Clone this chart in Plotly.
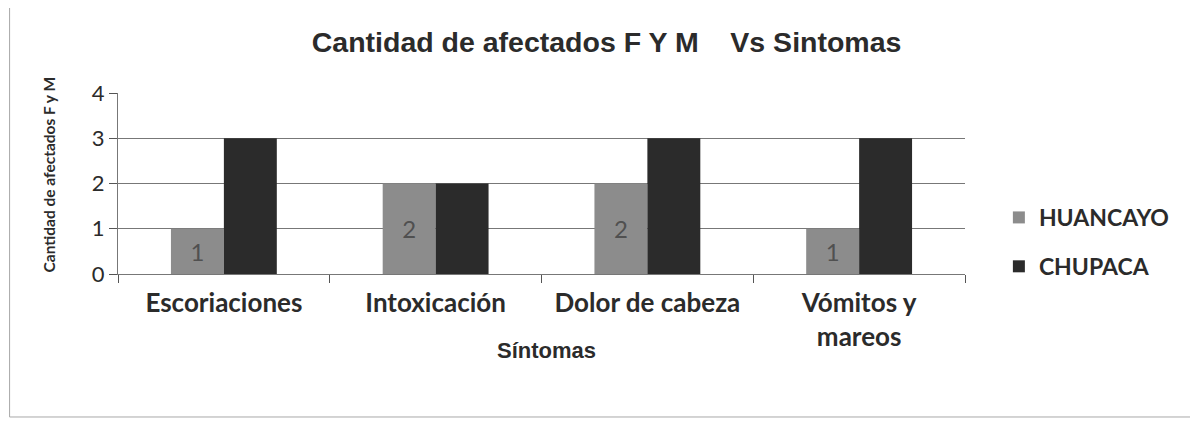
import plotly.graph_objects as go

# ── Colours ───────────────────────────────────────────────────────────────────
C_HUAN = "#8c8c8c"
C_CHUP = "#2b2b2b"
C_GRID = "#777777"
C_TEXT = "#2b2b2b"

# ── Data ─────────────────────────────────────────────────────────────────────
sintomas = ["Escoriaciones", "Intoxicación", "Dolor de cabeza", "Vómitos y<br>mareos"]
huancayo = [1, 2, 2, 1]
chupaca = [3, 2, 3, 3]
y_ticks = [0, 1, 2, 3, 4]

fig = go.Figure()

fig.add_trace(go.Bar(
    name="HUANCAYO", x=sintomas, y=huancayo, legendgroup="h",
    marker=dict(color=C_HUAN, line=dict(width=0)),
    text=[str(v) for v in huancayo],
    textposition="inside", insidetextanchor="middle",
    textfont=dict(color="#505050", size=24, family="Lato, sans-serif"),
))
fig.add_trace(go.Bar(
    name="CHUPACA", x=sintomas, y=chupaca, legendgroup="c",
    marker=dict(color=C_CHUP, line=dict(width=0)),
))

fig.update_layout(
    width=1190, height=415,
    paper_bgcolor="white", plot_bgcolor="white",
    margin=dict(l=110, r=233, t=85, b=149),
    barmode="group", bargap=0.5, bargroupgap=0,
    title=dict(
        text="<b>Cantidad de afectados F Y M    Vs Sintomas</b>",
        font=dict(size=28.5, color=C_TEXT, family="Liberation Sans, Arial, sans-serif"),
        x=0.503, xanchor="center", y=0.918, yanchor="middle",
    ),
    font=dict(family="Lato, sans-serif", color=C_TEXT),
    legend=dict(
        x=1.04, y=0.177, xanchor="left", yanchor="middle",
        font=dict(size=23, color=C_TEXT, family="Lato, sans-serif", weight="bold"),
        tracegroupgap=16, traceorder="grouped",
    ),
    showlegend=True,
)

fig.update_xaxes(
    showgrid=False, showline=True, linecolor=C_GRID, linewidth=1,
    ticks="outside", tickson="boundaries", ticklen=8, tickcolor="#555",
    ticklabelstandoff=6,
    tickfont=dict(size=26, color=C_TEXT, family="Lato, sans-serif", weight="bold"),
)
fig.update_yaxes(
    range=[0, 4], tickvals=y_ticks, showgrid=True, gridcolor=C_GRID, gridwidth=1,
    showline=True, linecolor=C_GRID, linewidth=1, zeroline=False,
    ticks="outside", ticklen=8, tickcolor="#555",
    tickfont=dict(size=22, color=C_TEXT, family="Lato, sans-serif"),
)

# axis titles
fig.add_annotation(
    text="<b>Síntomas</b>", xref="paper", yref="paper", x=0.506, y=-0.42,
    showarrow=False, xanchor="center", yanchor="middle",
    font=dict(size=22, color=C_TEXT, family="Liberation Sans, Arial, sans-serif"),
)
fig.add_annotation(
    text="<b>Cantidad de afectados F y M</b>", xref="paper", yref="paper",
    x=-0.081, y=0.552, textangle=-90,
    showarrow=False, xanchor="center", yanchor="middle",
    font=dict(size=15.5, color=C_TEXT, family="Lato, sans-serif"),
)

# chart frame
fig.add_shape(type="rect", xref="paper", yref="paper",
              x0=-0.128, x1=1.29, y0=-0.79, y1=1.48,
              line=dict(color="#a8a8a8", width=1), layer="below")

fig.write_html("out.html")
